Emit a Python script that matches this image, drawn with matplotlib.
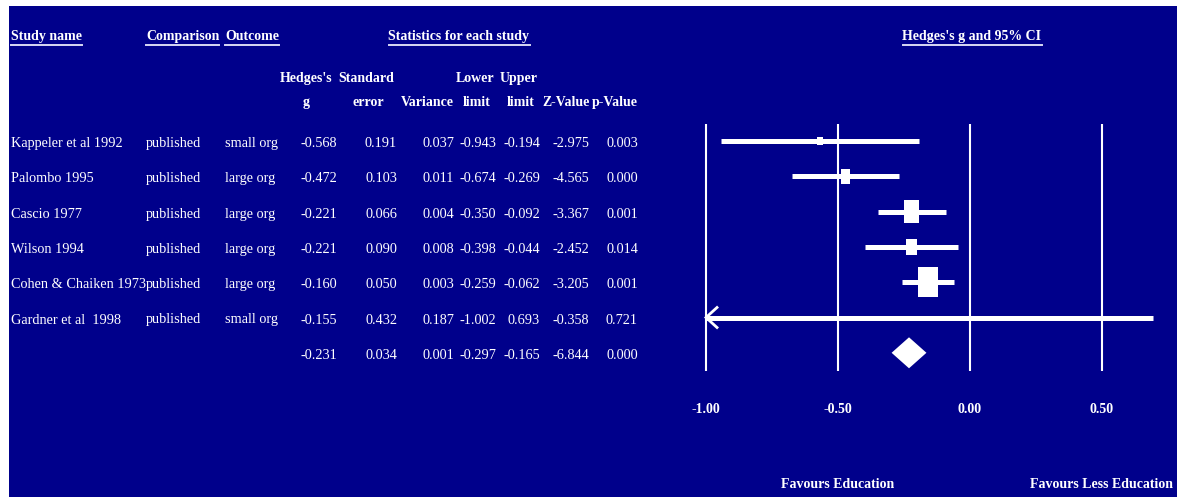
import numpy as np
import matplotlib
matplotlib.use("Agg")
import matplotlib.pyplot as plt
from matplotlib.patches import Rectangle, Polygon
from matplotlib.transforms import blended_transform_factory, Affine2D
from matplotlib.lines import Line2D

# ---------------- data ----------------
studies = ["Kappeler et al 1992", "Palombo 1995", "Cascio 1977", "Wilson 1994",
           "Cohen & Chaiken 1973", "Gardner et al  1998"]
comparison = ["published", "published", "published", "published", "published", "published"]
outcome = ["small org", "large org", "large org", "large org", "large org", "small org"]
hedges_g = [-0.568, -0.472, -0.221, -0.221, -0.160, -0.155]
std_err = [0.191, 0.103, 0.066, 0.090, 0.050, 0.432]
variance = [0.037, 0.011, 0.004, 0.008, 0.003, 0.187]
lower_limit = [-0.943, -0.674, -0.350, -0.398, -0.259, -1.002]
upper_limit = [-0.194, -0.269, -0.092, -0.044, -0.062, 0.693]
z_value = [-2.975, -4.565, -3.367, -2.452, -3.205, -0.358]
p_value = [0.003, 0.000, 0.001, 0.014, 0.001, 0.721]
# summary row: g, SE, variance, lower, upper, Z, p
summary_stats = [-0.231, 0.034, 0.001, -0.297, -0.165, -6.844, 0.000]
x_ticks = [-1.00, -0.50, 0.00, 0.50]
favours_labels = ["Favours Education", "Favours Less Education"]
favours_pos = [-0.50, 0.50]

# ---------------- styling ----------------
W, H, DPI = 1177, 497, 100
BG = "#00008B"
FG = "white"
plt.rcParams["font.family"] = ["Liberation Serif", "DejaVu Serif"]
FS = 10.3
FSB = 10.0

fig = plt.figure(figsize=(W / DPI, H / DPI), dpi=DPI, facecolor="white")
fig.add_artist(Rectangle((9 / W, 0), (W - 9) / W, (H - 6) / H, transform=fig.transFigure,
                         facecolor=BG, edgecolor="none", zorder=0))

# pixel transform (origin top-left)
pix = Affine2D().scale(1 / DPI, -1 / DPI).translate(0, H / DPI) + fig.dpi_scale_trans

# forest-plot axes: x = effect size (264 px per unit, 0 at 970 px), rows 35.3 px apart
PX_PER_UNIT = 264.0
ROW_PX = 35.3
ax_l, ax_r, ax_t, ax_b = 680, 1170, 110, 380
ax = fig.add_axes([ax_l / W, 1 - ax_b / H, (ax_r - ax_l) / W, (ax_b - ax_t) / H])
ax.set_xlim((ax_l - 970) / PX_PER_UNIT, (ax_r - 970) / PX_PER_UNIT)
ax.set_ylim((ax_b - 141) / ROW_PX, (ax_t - 141) / ROW_PX)
ax.set_axis_off()
ax.patch.set_alpha(0)

n = len(studies)
rows = np.arange(n)
sum_row = n

# vertical reference lines
ax.vlines(x_ticks, -0.48, 6.51, color=FG, lw=1.5, zorder=1)

# CI lines (clipped at the left edge of the scale)
xmin_scale = x_ticks[0]
lo = np.array(lower_limit)
hi = np.array(upper_limit)
lo_clip = np.maximum(lo, xmin_scale)
ax.hlines(rows, lo_clip, hi, color=FG, lw=3.6, capstyle="butt", zorder=2)
# open arrow for clipped intervals
for r, l in zip(rows, lo):
    if l < xmin_scale:
        dx = 11 / PX_PER_UNIT
        dy = 10 / ROW_PX
        ax.plot([xmin_scale + dx, xmin_scale, xmin_scale + dx], [r - dy, r, r + dy],
                color=FG, lw=2, solid_joinstyle="miter", zorder=3)

# squares sized by weight
w = 1 / np.array(std_err) ** 2
scale = np.sqrt(w / w.max())
for r, g, s in zip(rows, hedges_g, scale):
    bw = 20 * s / PX_PER_UNIT
    bh = 30 * s / ROW_PX
    ax.add_patch(Rectangle((g - bw / 2, r - bh / 2), bw, bh, facecolor=FG,
                           edgecolor="none", zorder=4))

# summary diamond
sg, sl, su = summary_stats[0], summary_stats[3], summary_stats[4]
dh = 15.5 / ROW_PX
ax.add_patch(Polygon([(sl, sum_row), (sg, sum_row - dh), (su, sum_row), (sg, sum_row + dh)],
                     closed=True, facecolor=FG, edgecolor="none", zorder=4))

# tick labels and favours labels
tick_tr = blended_transform_factory(ax.transData, pix)
for t in x_ticks:
    ax.text(t, 413, f"{t:.2f}", transform=tick_tr, ha="center", va="baseline",
            color=FG, fontsize=FSB, fontweight="bold")
for lab, pos in zip(favours_labels, favours_pos):
    ax.text(pos, 488, lab, transform=tick_tr, ha="center", va="baseline",
            color=FG, fontsize=FSB, fontweight="bold")

# ---------------- table ----------------
row_tr = blended_transform_factory(pix, ax.transData)
base_off = 6 / ROW_PX
left_cols = [(11, studies), (146, comparison), (225, outcome)]
for x, col in left_cols:
    for r, v in zip(rows, col):
        fig.text(x, r + base_off, v, transform=row_tr, ha="left", va="baseline",
                 color=FG, fontsize=FS)

num_cols_x = [337, 397, 454, 496, 540, 589, 638]
num_cols = [hedges_g, std_err, variance, lower_limit, upper_limit, z_value, p_value]
for x, col, sv in zip(num_cols_x, num_cols, summary_stats):
    for r, v in zip(rows, col):
        fig.text(x, r + base_off, f"{v:.3f}", transform=row_tr, ha="right", va="baseline",
                 color=FG, fontsize=FS)
    fig.text(x, sum_row + base_off, f"{sv:.3f}", transform=row_tr, ha="right",
             va="baseline", color=FG, fontsize=FS)

# headers
underlined = []
for x, txt, ha in [(11, "Study name", "left"), (146, "Comparison", "left"),
                   (225, "Outcome", "left"), (459, "Statistics for each study", "center"),
                   (972, "Hedges's g and 95% CI", "center")]:
    t = fig.text(x, 40, txt, transform=pix, ha=ha, va="baseline", color=FG,
                 fontsize=FSB, fontweight="bold")
    underlined.append(t)

for x, txt in [(306, "Hedges's"), (366, "Standard"), (475, "Lower"), (519, "Upper")]:
    fig.text(x, 82, txt, transform=pix, ha="center", va="baseline", color=FG,
             fontsize=FSB, fontweight="bold")
for x, txt in [(306, "g"), (368, "error"), (427, "Variance"), (477, "limit"),
               (521, "limit"), (566, "Z-Value"), (615, "p-Value")]:
    fig.text(x, 106, txt, transform=pix, ha="center", va="baseline", color=FG,
             fontsize=FSB, fontweight="bold")

# underlines under the header texts
fig.canvas.draw()
renderer = fig.canvas.get_renderer()
for t in underlined:
    bb = t.get_window_extent(renderer)
    y = 1 - 44.5 / H
    fig.add_artist(Line2D([bb.x0 / W, bb.x1 / W], [y, y], transform=fig.transFigure,
                          color="#d8d8f4", lw=1.4))

fig.savefig("out.png", dpi=DPI, facecolor="white")
